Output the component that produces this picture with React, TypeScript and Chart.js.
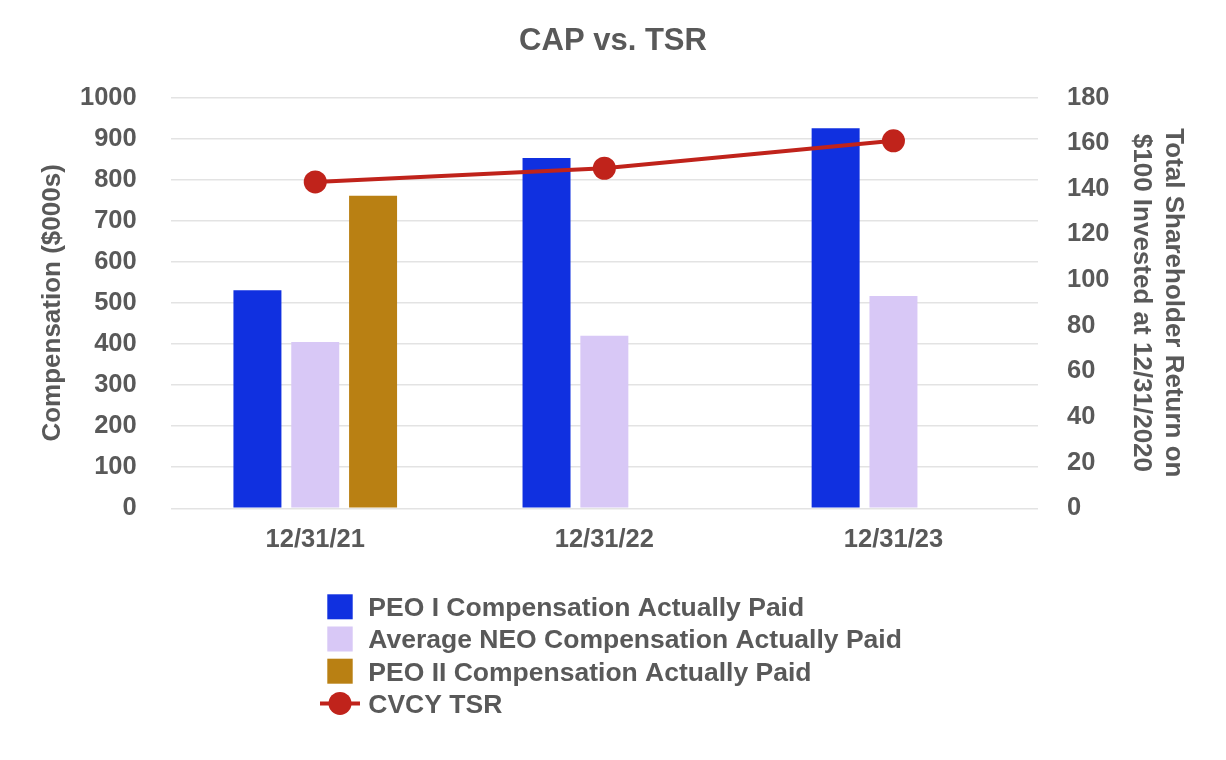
import React, { useEffect, useRef } from "react";
import { Chart, registerables } from "chart.js";

Chart.register(...registerables);

// ---- data ----
const categories = ["12/31/21", "12/31/22", "12/31/23"];
const peo1Values = [531, 853, 925];
const neoValues = [405, 420, 517];
const peo2Values: (number | null)[] = [761, null, null];
const tsrValues = [143, 149, 161];

const seriesLabels = [
  "PEO I Compensation Actually Paid",
  "Average NEO Compensation Actually Paid",
  "PEO II Compensation Actually Paid",
  "CVCY TSR",
];

const TEXT = "#595959";
const FONT = '"Liberation Sans", Arial, sans-serif';

const stackedLegend = {
  id: "stackedLegend",
  afterDraw(chart: any) {
    const ctx = chart.ctx as CanvasRenderingContext2D;
    const datasets = chart.data.datasets;
    const x0 = 312;
    const top = 598.8;
    const step = 32.2;
    ctx.save();
    datasets.forEach((ds: any, i: number) => {
      const cy = top + i * step;
      if (ds.type === "line") {
        ctx.strokeStyle = ds.borderColor;
        ctx.lineWidth = 4;
        ctx.beginPath();
        ctx.moveTo(x0, cy);
        ctx.lineTo(x0 + 40, cy);
        ctx.stroke();
        ctx.fillStyle = ds.pointBackgroundColor;
        ctx.beginPath();
        ctx.arc(x0 + 20, cy, 11.5, 0, Math.PI * 2);
        ctx.fill();
      } else {
        ctx.fillStyle = ds.backgroundColor;
        ctx.fillRect(x0 + 7.3, cy - 12.5, 25.4, 25);
      }
      ctx.fillStyle = TEXT;
      ctx.font = `bold 26.5px ${FONT}`;
      ctx.textBaseline = "middle";
      ctx.textAlign = "left";
      ctx.fillText(ds.label, x0 + 48.3, cy + 2);
    });
    ctx.restore();
  },
};

export default function App() {
  const canvasRef = useRef<HTMLCanvasElement | null>(null);

  useEffect(() => {
    if (!canvasRef.current) return;
    const chart = new Chart(canvasRef.current, {
      type: "bar",
      data: {
        labels: categories,
        datasets: [
          {
            type: "bar",
            label: seriesLabels[0],
            data: peo1Values,
            backgroundColor: "#1030e0",
            yAxisID: "y",
            order: 1,
            categoryPercentage: 0.6,
            barPercentage: 0.83,
          },
          {
            type: "bar",
            label: seriesLabels[1],
            data: neoValues,
            backgroundColor: "#d8c8f6",
            yAxisID: "y",
            order: 1,
            categoryPercentage: 0.6,
            barPercentage: 0.83,
          },
          {
            type: "bar",
            label: seriesLabels[2],
            data: peo2Values,
            backgroundColor: "#b98013",
            yAxisID: "y",
            order: 1,
            categoryPercentage: 0.6,
            barPercentage: 0.83,
          },
          {
            type: "line",
            label: seriesLabels[3],
            data: tsrValues,
            borderColor: "#c0231b",
            backgroundColor: "#c0231b",
            pointBackgroundColor: "#c0231b",
            pointBorderColor: "#c0231b",
            pointRadius: 11.5,
            pointBorderWidth: 0,
            borderWidth: 4,
            yAxisID: "y1",
            order: 0,
          } as any,
        ],
      },
      options: {
        animation: false,
        responsive: true,
        maintainAspectRatio: false,
        layout: { padding: { left: 0, right: 0, top: 0, bottom: 191.7 } },
        plugins: {
          legend: { display: false },
          tooltip: { enabled: false },
          title: {
            display: true,
            text: "CAP vs. TSR",
            color: TEXT,
            font: { family: FONT, size: 31, weight: "bold", lineHeight: 1.2 },
            padding: { top: 15, bottom: 37.3 },
          },
        },
        scales: {
          x: {
            grid: { display: false, drawTicks: false },
            border: { display: false },
            ticks: {
              color: TEXT,
              padding: 16.6,
              font: { family: FONT, size: 25.5, weight: "bold", lineHeight: 1.2 },
            },
            afterFit(scale: any) {
              scale.height = 48;
            },
          },
          y: {
            position: "left",
            min: 0,
            max: 1000,
            ticks: {
              stepSize: 100,
              color: TEXT,
              padding: 34,
              font: { family: FONT, size: 25.5, weight: "bold" },
              callback: (v: any) => String(v),
            },
            grid: { color: "#e3e3e3", lineWidth: 1.6, drawTicks: false },
            border: { display: false },
            title: {
              display: true,
              text: "Compensation ($000s)",
              color: TEXT,
              font: { family: FONT, size: 26, weight: "bold", lineHeight: 1.23 },
              padding: { top: 29.3, bottom: 0 },
            },
            afterFit(scale: any) {
              scale.width = 162.7;
            },
          },
          y1: {
            position: "right",
            min: 0,
            max: 180,
            ticks: {
              stepSize: 20,
              color: TEXT,
              padding: 29,
              font: { family: FONT, size: 25.5, weight: "bold" },
              callback: (v: any) => String(v),
            },
            grid: { display: false, drawTicks: false },
            border: { display: false },
            title: {
              display: true,
              text: ["Total Shareholder Return on", "$100 Invested at 12/31/2020"],
              color: TEXT,
              font: { family: FONT, size: 26, weight: "bold", lineHeight: 1.23 },
              padding: { top: 29, bottom: 0 },
            },
            afterFit(scale: any) {
              scale.width = 180;
            },
          },
        },
      },
      plugins: [stackedLegend],
    } as any);
    return () => chart.destroy();
  }, []);

  return (
    <div style={{ position: "relative", width: "1210px", height: "740px" }}>
      <canvas ref={canvasRef} />
    </div>
  );
}
